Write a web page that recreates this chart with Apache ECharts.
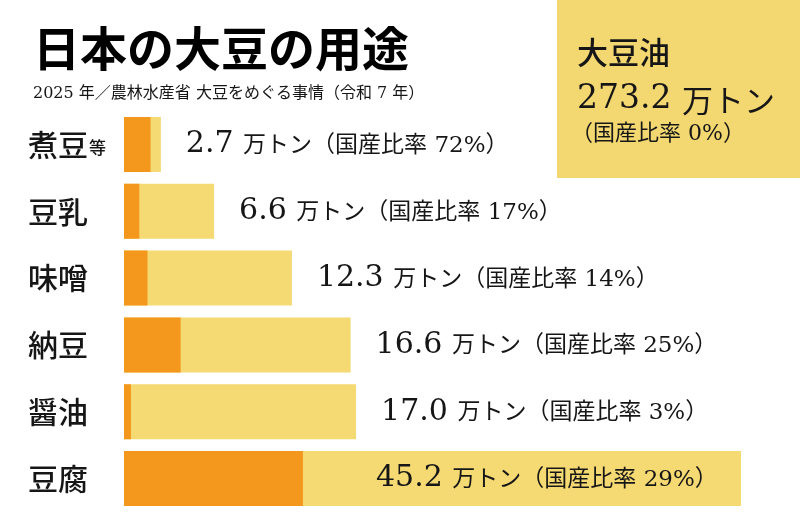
<!DOCTYPE html>
<html>
<head>
<meta charset="utf-8">
<script src="https://cdn.jsdelivr.net/npm/echarts@6/dist/echarts.min.js"></script>
<style>
html,body{margin:0;padding:0;background:#fff;}
#c{width:800px;height:532px;}
</style>
</head>
<body>
<div id="c"></div>
<script>
// ---- data ----
const titleText = '日本の大豆の用途';
const subtitleText = '2025 年／農林水産省 大豆をめぐる事情（令和 7 年）';
const categories = ['煮豆等', '豆乳', '味噌', '納豆', '醤油', '豆腐'];
const totals = [2.7, 6.6, 12.3, 16.6, 17.0, 45.2];          // 万トン
const domesticRatio = [72, 17, 14, 25, 3, 29];             // 国産比率 %
const oilName = '大豆油';
const oilTotal = 273.2;                                    // 万トン
const oilRatio = 0;                                        // %

// ---- derived ----
const domestic = totals.map((v, i) => +(v * domesticRatio[i] / 100).toFixed(3));
const maxIdx = totals.indexOf(Math.max(...totals));

const SERIF_NUM = "'DejaVu Serif', 'Noto Sans CJK JP', serif";
const JP = "'Noto Sans CJK JP', sans-serif";
const INK = '#161616';
const ORANGE = '#F3981C';
const YELLOW = '#F5D972';
const BOX = '#F3D872';

const chart = echarts.init(document.getElementById('c'));

const totalData = totals.map((v, i) => {
  if (i === maxIdx) {
    return { value: v, label: { position: [252, '50%'], align: 'left', verticalAlign: 'middle' } };
  }
  return v;
});

chart.setOption({
  animation: false,
  backgroundColor: '#fff',
  grid: { left: 124, right: 59, top: 111, bottom: 20, containLabel: false },
  xAxis: {
    type: 'value', min: 0, max: 45.2,
    show: false
  },
  yAxis: {
    type: 'category',
    data: categories,
    inverse: true,
    axisLine: { show: false },
    axisTick: { show: false },
    splitLine: { show: false },
    axisLabel: {
      margin: 96,
      align: 'left',
      formatter: function (v) {
        if (v.endsWith('等')) return '{a|' + v.slice(0, -1) + '}{b|等}';
        return '{a|' + v + '}';
      },
      rich: {
        a: { fontSize: 30, fontFamily: JP, color: INK, fontWeight: 500, verticalAlign: 'bottom' },
        b: { fontSize: 17, fontFamily: JP, color: INK, fontWeight: 500, verticalAlign: 'bottom', padding: [0, 0, 3, 1] }
      }
    }
  },
  series: [
    {
      name: '総量',
      type: 'bar',
      data: totalData,
      barWidth: 55,
      barGap: '-100%',
      itemStyle: { color: YELLOW },
      label: {
        show: true,
        position: 'right',
        distance: 25,
        formatter: function (p) {
          const i = p.dataIndex;
          return '{n|' + totals[i].toFixed(1) + ' }{u|万トン（国産比率 ' + domesticRatio[i] + '%）}';
        },
        rich: {
          n: { fontSize: 30, fontFamily: SERIF_NUM, color: INK, verticalAlign: 'bottom' },
          u: { fontSize: 23, fontFamily: SERIF_NUM, color: INK, verticalAlign: 'bottom', padding: [0, 0, 2, 0] }
        }
      },
      z: 2
    },
    {
      name: '国産',
      type: 'bar',
      data: domestic,
      barWidth: 55,
      barGap: '-100%',
      itemStyle: { color: ORANGE },
      z: 3
    }
  ],
  graphic: [
    {
      type: 'text', x: 33, y: 48,
      style: { text: titleText, fontSize: 47, fontWeight: 'bold', fontFamily: JP, fill: '#000', verticalAlign: 'middle', align: 'left' }
    },
    {
      type: 'text', x: 33, y: 94,
      style: { text: subtitleText, fontSize: 16, fontFamily: SERIF_NUM, fill: INK, verticalAlign: 'middle', align: 'left' }
    },
    {
      type: 'rect',
      shape: { x: 557, y: 0, width: 243, height: 178 },
      style: { fill: BOX }
    },
    {
      type: 'text', x: 577, y: 52,
      style: { text: oilName, fontSize: 31, fontFamily: JP, fontWeight: 500, fill: INK, verticalAlign: 'middle', align: 'left' }
    },
    {
      type: 'text', x: 577, y: 99,
      style: {
        text: '{n|' + oilTotal.toFixed(1) + ' }{u|万トン}',
        verticalAlign: 'middle', align: 'left',
        rich: {
          n: { fontSize: 33, fontFamily: SERIF_NUM, fill: INK, verticalAlign: 'bottom' },
          u: { fontSize: 31, fontFamily: JP, fill: INK, verticalAlign: 'bottom' }
        }
      }
    },
    {
      type: 'text', x: 571, y: 134,
      style: { text: '（国産比率 ' + oilRatio + '%）', fontSize: 22, fontFamily: SERIF_NUM, fill: INK, verticalAlign: 'middle', align: 'left' }
    }
  ]
});
</script>
</body>
</html>
